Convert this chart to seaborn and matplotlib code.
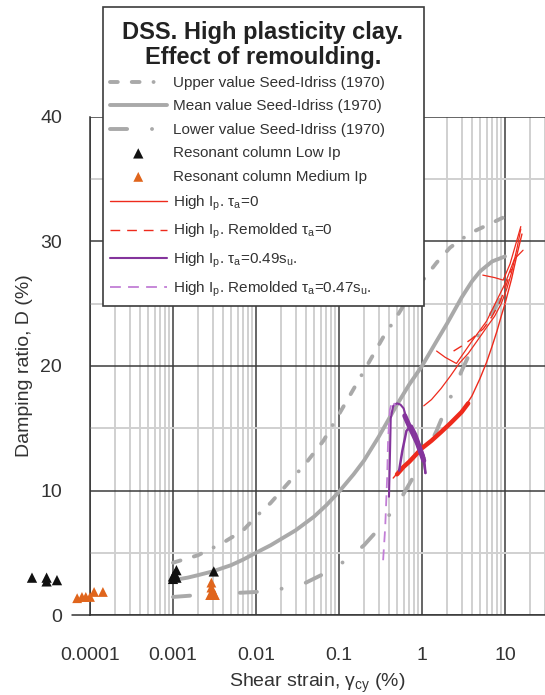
import matplotlib
matplotlib.use("Agg")
import matplotlib.pyplot as plt
from matplotlib.lines import Line2D
from matplotlib.patches import Rectangle
from matplotlib.ticker import FixedLocator, NullFormatter, LogLocator, MultipleLocator
import seaborn as sns

# ---- Seed-Idriss (1970) damping curves (strain in %, damping in %) ----
upper_strain = [0.001, 0.002, 0.004, 0.007, 0.01, 0.015, 0.026, 0.04, 0.065, 0.09, 0.124,
                0.2, 0.34, 0.5, 0.66, 1.0, 1.5, 2.17, 3.0, 4.5, 7.0, 10.0]
upper_damping = [4.2, 4.8, 5.8, 6.8, 7.9, 9.0, 10.8, 12.2, 14.0, 15.6, 17.2,
                 19.6, 22.3, 24.0, 25.3, 26.8, 28.3, 29.5, 30.2, 30.9, 31.5, 32.0]

mean_strain = [0.001, 0.0015, 0.002, 0.003, 0.005, 0.007, 0.01, 0.015, 0.02, 0.03, 0.05,
               0.07, 0.1, 0.15, 0.2, 0.3, 0.5, 0.7, 1.0, 1.5, 2.0, 3.0, 4.0, 5.0, 7.0, 10.0]
mean_damping = [2.8, 3.0, 3.2, 3.5, 4.0, 4.45, 5.0, 5.6, 6.1, 6.8, 7.9,
                8.8, 9.9, 11.3, 12.4, 14.3, 16.9, 18.5, 20.0, 22.0, 23.4, 25.5, 26.8, 27.6, 28.4, 28.8]

lower_strain = [0.001, 0.002, 0.005, 0.01, 0.02, 0.04, 0.07, 0.1, 0.15, 0.2, 0.3, 0.4, 0.55,
                0.7, 1.0, 1.5, 2.0, 3.0, 4.0, 5.0, 7.6, 10.0]
lower_damping = [1.45, 1.6, 1.75, 1.85, 2.1, 2.6, 3.4, 4.0, 4.9, 5.6, 6.9, 8.0, 9.3,
                 10.5, 12.3, 14.8, 16.8, 19.6, 21.4, 22.8, 24.7, 26.0]

# ---- Resonant column tests ----
rc_low_strain = [2.0e-5, 3.0e-5, 3.0e-5, 4.0e-5, 1.0e-3, 1.05e-3, 1.1e-3, 1.0e-3, 1.1e-3, 3.1e-3]
rc_low_damping = [3.0, 2.7, 3.0, 2.8, 2.9, 3.3, 3.6, 3.1, 3.0, 3.5]

rc_med_strain = [7.0e-5, 8.0e-5, 8.9e-5, 1.0e-4, 1.12e-4, 1.43e-4,
                 2.9e-3, 2.9e-3, 3.0e-3, 3.1e-3, 2.8e-3, 3.2e-3]
rc_med_damping = [1.35, 1.45, 1.45, 1.45, 1.85, 1.85,
                  2.6, 2.2, 1.9, 1.7, 1.6, 1.6]

# ---- DSS, high Ip, tau_a = 0 ----
red_main_strain = [0.45, 0.55, 0.7, 0.85, 1.0, 1.3, 1.7, 2.2, 3.0, 4.0, 5.0, 6.0, 7.0,
                   8.0, 9.0, 10.0, 12.0, 14.0, 16.0]
red_main_damping = [11.0, 11.7, 12.3, 12.9, 13.4, 14.0, 14.7, 15.4, 16.3, 17.6, 19.0, 20.3,
                    21.6, 22.8, 24.0, 25.0, 27.0, 29.0, 30.6]
red_band_strain = [0.5, 0.6, 0.7, 0.85, 1.0, 1.3, 1.7, 2.2, 3.0, 3.6]
red_band_damping = [11.3, 11.9, 12.3, 12.9, 13.4, 14.0, 14.7, 15.4, 16.3, 17.0]
red_b_strain = [1.05, 1.3, 1.7, 2.2, 2.8, 3.6, 4.6, 6.0, 7.5, 9.0, 10.5, 12.0, 14.0, 15.5]
red_b_damping = [16.8, 17.3, 18.2, 19.2, 20.2, 21.0, 22.0, 23.1, 24.0, 25.0, 26.2, 27.5, 29.5, 31.0]
red_c_strain = [1.5, 1.9, 2.6, 4.0, 6.0, 8.0, 10.0, 13.0, 16.5]
red_c_damping = [21.2, 20.7, 20.2, 22.0, 23.6, 25.3, 26.6, 28.6, 29.3]
red_d_strain = [5.4, 7.5, 9.5, 11.5, 13.5, 15.5]
red_d_damping = [27.3, 27.1, 26.9, 28.2, 29.8, 31.2]

# ---- DSS, high Ip, remolded, tau_a = 0 ----
red_rem_strain = [2.4, 3.0, 4.0, 5.5, 7.0, 8.5, 10.0, 12.0]
red_rem_damping = [21.2, 21.6, 22.2, 23.0, 24.0, 25.0, 26.2, 27.8]

# ---- DSS, high Ip, tau_a = 0.49 su ----
purple_strain = [0.40, 0.41, 0.42, 0.45, 0.50, 0.55, 0.60, 0.65, 0.72, 0.80, 0.88, 0.95,
                 1.0, 1.05, 1.1]
purple_damping = [9.5, 12.5, 15.8, 16.8, 17.0, 16.9, 16.6, 15.8, 15.0, 14.3, 13.6, 13.0,
                  12.6, 12.3, 11.4]
purple_loop_strain = [0.53, 0.58, 0.65, 0.75, 0.85, 0.95, 1.05, 1.1]
purple_loop_damping = [11.6, 13.2, 14.8, 15.2, 14.5, 13.6, 12.8, 11.4]
purple_blob_strain = [0.62, 0.7, 0.8, 0.88, 0.95, 1.0, 1.05]
purple_blob_damping = [16.0, 15.2, 14.4, 13.8, 13.2, 12.8, 12.4]

# ---- DSS, high Ip, remolded, tau_a = 0.47 su ----
purple_rem_strain = [0.34, 0.36, 0.37, 0.38, 0.39, 0.41, 0.44, 0.48]
purple_rem_damping = [4.4, 7.0, 9.0, 11.0, 14.0, 16.5, 17.2, 16.8]

x_ticks = [1e-4, 1e-3, 1e-2, 1e-1, 1, 10]
x_tick_labels = ["0.0001", "0.001", "0.01", "0.1", "1", "10"]
y_ticks = [0, 10, 20, 30, 40]

label_upper = "Upper value Seed-Idriss (1970)"
label_mean = "Mean value Seed-Idriss (1970)"
label_lower = "Lower value Seed-Idriss (1970)"
label_rc_low = "Resonant column Low Ip"
label_rc_med = "Resonant column Medium Ip"
label_t0 = r"High I$_\mathrm{p}$. τ$_\mathrm{a}$=0"
label_rem_t0 = r"High I$_\mathrm{p}$. Remolded τ$_\mathrm{a}$=0"
label_t49 = r"High I$_\mathrm{p}$. τ$_\mathrm{a}$=0.49s$_\mathrm{u}$."
label_rem_t47 = r"High I$_\mathrm{p}$. Remolded τ$_\mathrm{a}$=0.47s$_\mathrm{u}$."
title_text = "DSS. High plasticity clay.\nEffect of remoulding."

# ---- styling ----
sns.set_theme(style="white")
plt.rcParams["font.family"] = ["Liberation Sans", "DejaVu Sans"]
plt.rcParams["mathtext.fontset"] = "custom"
plt.rcParams["mathtext.rm"] = "Liberation Sans"
plt.rcParams["mathtext.it"] = "Liberation Sans:italic"
plt.rcParams["mathtext.bf"] = "Liberation Sans:bold"

GRAY = "#a9a9a9"
RED = "#ee2a1c"
PURPLE = "#84349c"
LPURPLE = "#c27ed6"
ORANGE = "#e0651c"
INK = "#333333"

W, H = 545, 695
fig = plt.figure(figsize=(W / 100, H / 100), dpi=100)
ax = fig.add_axes([90 / W, (H - 615) / H, (545 - 90) / W, (615 - 117) / H])
ax.set_xscale("log")

curve_lw = 2.8
upper_dash = (0, (2.0, 3.6, 2.0, 3.6, 0.01, 3.6))
lower_dash = (0, (4.4, 6.4, 0.01, 6.4))

common = dict(estimator=None, sort=False, ax=ax)
sns.lineplot(x=upper_strain, y=upper_damping, color=GRAY, lw=curve_lw,
             linestyle=upper_dash, dash_capstyle="round", label=label_upper, **common)
sns.lineplot(x=mean_strain, y=mean_damping, color=GRAY, lw=curve_lw,
             solid_capstyle="round", solid_joinstyle="round", label=label_mean, **common)
sns.lineplot(x=lower_strain, y=lower_damping, color=GRAY, lw=curve_lw,
             linestyle=lower_dash, dash_capstyle="round", label=label_lower, **common)

# tau_a = 0, intact and remolded
sns.lineplot(x=red_main_strain, y=red_main_damping, color=RED, lw=1.0, label=label_t0, **common)
sns.lineplot(x=red_band_strain, y=red_band_damping, color=RED, lw=3.2, **common)
sns.lineplot(x=red_b_strain, y=red_b_damping, color=RED, lw=0.9, **common)
sns.lineplot(x=red_c_strain, y=red_c_damping, color=RED, lw=0.9, **common)
sns.lineplot(x=red_d_strain, y=red_d_damping, color=RED, lw=0.9, **common)
sns.lineplot(x=red_rem_strain, y=red_rem_damping, color=RED, lw=1.0,
             linestyle=(0, (7, 5)), label=label_rem_t0, **common)

# tau_a about 0.5 su, intact and remolded
sns.lineplot(x=purple_strain, y=purple_damping, color=PURPLE, lw=1.5, label=label_t49, **common)
sns.lineplot(x=purple_loop_strain, y=purple_loop_damping, color=PURPLE, lw=1.8, **common)
sns.lineplot(x=purple_blob_strain, y=purple_blob_damping, color=PURPLE, lw=3.6,
             solid_capstyle="round", **common)
sns.lineplot(x=purple_rem_strain, y=purple_rem_damping, color=LPURPLE, lw=1.3,
             linestyle=(0, (6, 4)), label=label_rem_t47, **common)

# resonant column points (some lie left of the strain axis origin)
sns.scatterplot(x=rc_low_strain, y=rc_low_damping, marker="^", s=55, color="#111111",
                edgecolor="none", clip_on=False, zorder=5, label=label_rc_low, ax=ax)
sns.scatterplot(x=rc_med_strain, y=rc_med_damping, marker="^", s=50, color=ORANGE,
                edgecolor="none", clip_on=False, zorder=5, label=label_rc_med, ax=ax)

ax.set_xlim(1e-4, 10 ** (-4 + 455 / 83.0))
ax.set_ylim(0, 40)

ax.xaxis.set_major_locator(FixedLocator(x_ticks))
ax.set_xticklabels(x_tick_labels)
ax.xaxis.set_minor_locator(LogLocator(base=10, subs=range(2, 10), numticks=20))
ax.xaxis.set_minor_formatter(NullFormatter())
ax.set_yticks(y_ticks)
ax.yaxis.set_minor_locator(MultipleLocator(5))

ax.set_axisbelow(True)
ax.grid(True, which="major", color="#3c3c3c", lw=1.1)
ax.grid(True, which="minor", color="#d0d0d0", lw=1.4)

for side in ("top", "right"):
    ax.spines[side].set_visible(False)
for side in ("left", "bottom"):
    ax.spines[side].set_color(INK)
    ax.spines[side].set_linewidth(1.1)

ax.tick_params(axis="x", which="major", direction="out", length=12, width=1.0,
               color=INK, labelsize=14, labelcolor=INK, pad=11)
ax.tick_params(axis="x", which="minor", direction="out", length=5, width=1.0, color=INK)
ax.tick_params(axis="y", which="major", direction="out", length=13, width=1.0,
               color=INK, labelsize=14, labelcolor=INK, pad=7)
ax.tick_params(axis="y", which="minor", direction="out", length=6, width=1.0, color=INK)

ax.set_xlabel("Shear strain, γ$_\\mathrm{cy}$ (%)", fontsize=14, color=INK, labelpad=6)
ax.set_ylabel("Damping ratio, D (%)", fontsize=14, color=INK, labelpad=5)

# short run of the strain axis to the left of its origin
fig.add_artist(Line2D([72 / W, 90 / W], [(H - 615) / H] * 2, transform=fig.transFigure,
                      color=INK, lw=1.1))

# legend: framed box overlapping the top of the plot
if ax.get_legend() is not None:
    ax.get_legend().remove()
handles, labels = ax.get_legend_handles_labels()
lookup = dict(zip(labels, handles))
order = [label_upper, label_mean, label_lower, label_rc_low, label_rc_med,
         label_t0, label_rem_t0, label_t49, label_rem_t47]

box = Rectangle((103 / W, 1 - 306 / H), (424 - 103) / W, (306 - 7) / H,
                transform=fig.transFigure, facecolor="white", edgecolor="#3c3c3c",
                lw=1.2, zorder=3)
fig.add_artist(box)
fig.text(263 / W, 1 - 45 / H, title_text, ha="center", va="center",
         fontsize=17, fontweight="bold", color="#222222", linespacing=1.1, zorder=7)
leg = fig.legend([lookup[l] for l in order], order, loc="upper left",
                 bbox_to_anchor=(110 / W, 1 - 76 / H), bbox_transform=fig.transFigure,
                 frameon=False, fontsize=11, handlelength=3.7, handletextpad=0.45,
                 labelspacing=0.62, borderpad=0, borderaxespad=0, labelcolor=INK)
leg.set_zorder(6)

fig.savefig("out.png", dpi=100)
